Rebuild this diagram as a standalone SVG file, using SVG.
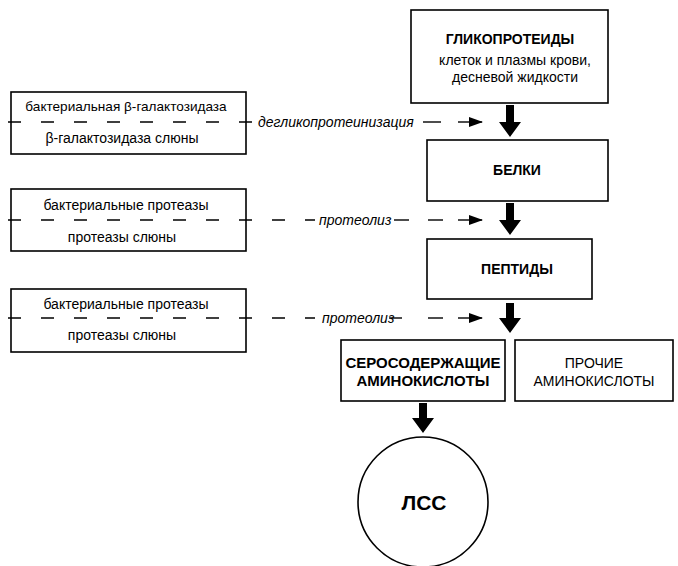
<svg xmlns="http://www.w3.org/2000/svg" width="678" height="566" viewBox="0 0 678 566">
<defs>
<style>
.box{fill:#fff;stroke:#000;stroke-width:1.6}
.t{font-family:"Liberation Sans",Arial,sans-serif;font-size:14px;fill:#000;text-anchor:middle}
.b{font-weight:bold}
.i{font-style:italic;text-anchor:start}
.dash{stroke:#000;stroke-width:1.4;fill:none;stroke-dasharray:13 20}
.seg{stroke:#000;stroke-width:1.4;fill:none}
.thick{fill:#000}
</style>
<marker id="ah" markerWidth="14" markerHeight="10" refX="13" refY="5" orient="auto" markerUnits="userSpaceOnUse">
<path d="M0,0 L14,5 L0,10 Z" fill="#000"/>
</marker>
</defs>
<rect width="678" height="566" fill="#fff"/>

<g id="glycoproteins">
<rect class="box" x="411" y="10" width="197" height="93"/>
<text class="t b" x="510" y="44">ГЛИКОПРОТЕИДЫ</text>
<text class="t" x="515" y="65">клеток и плазмы крови,</text>
<text class="t" x="515" y="82">десневой жидкости</text>
</g>

<g id="proteins">
<rect class="box" x="427" y="140" width="181" height="61"/>
<text class="t b" x="517" y="175">БЕЛКИ</text>
</g>

<g id="peptides">
<rect class="box" x="427" y="239" width="165" height="60"/>
<text class="t b" x="517" y="274">ПЕПТИДЫ</text>
</g>

<g id="sulfur-aa">
<rect class="box" x="341" y="340" width="164" height="61"/>
<text class="t b" x="423" y="368" style="font-size:15px">СЕРОСОДЕРЖАЩИЕ</text>
<text class="t b" x="423" y="386" style="font-size:15px">АМИНОКИСЛОТЫ</text>
</g>

<g id="other-aa">
<rect class="box" x="515" y="340" width="158" height="61"/>
<text class="t" x="594" y="368">ПРОЧИЕ</text>
<text class="t" x="594" y="386">АМИНОКИСЛОТЫ</text>
</g>

<g id="lss">
<circle cx="423" cy="502" r="65" fill="#fff" stroke="#000" stroke-width="1.6"/>
<text class="t b" x="424" y="510" style="font-size:21px">ЛСС</text>
</g>

<g id="enzymes-1">
<rect class="box" x="11" y="92" width="235" height="62"/>
<text class="t" x="126" y="111" style="font-size:13.6px">бактериальная β-галактозидаза</text>
<text class="t" x="122" y="143">β-галактозидаза слюны</text>
</g>

<g id="enzymes-2">
<rect class="box" x="11" y="189" width="235" height="62"/>
<text class="t" x="126" y="210">бактериальные протеазы</text>
<text class="t" x="122" y="242">протеазы слюны</text>
</g>

<g id="enzymes-3">
<rect class="box" x="11" y="289" width="235" height="63"/>
<text class="t" x="126" y="309">бактериальные протеазы</text>
<text class="t" x="122" y="340">протеазы слюны</text>
</g>

<g id="connectors">
<!-- thick arrows -->
<path class="thick" d="M506,105 H514 V122 H521 L510,137 L499,122 H506 Z"/>
<path class="thick" d="M506,203 H514 V220 H521 L510,235 L499,220 H506 Z"/>
<path class="thick" d="M506,303 H514 V318 H521 L510,333 L499,318 H506 Z"/>
<path class="thick" d="M419,403 H427 V418 H434 L423,433 L412,418 H419 Z"/>
<!-- row 1 -->
<path class="dash" d="M8,122 H252"/>
<text class="t i" x="258" y="127">дегликопротеинизация</text>
<path class="seg" d="M423,122 H441"/>
<path class="seg" d="M458,122 H482" marker-end="url(#ah)"/>
<!-- row 2 -->
<path class="dash" d="M8,220 H315"/>
<text class="t i" x="319" y="225">протеолиз</text>
<path class="seg" d="M394,220 H409"/>
<path class="seg" d="M428,220 H443"/>
<path class="seg" d="M458,220 H482" marker-end="url(#ah)"/>
<!-- row 3 -->
<path class="dash" d="M8,318 H315"/>
<text class="t i" x="322" y="323">протеолиз</text>
<path class="seg" d="M389,318 H402"/>
<path class="seg" d="M428,318 H443"/>
<path class="seg" d="M458,318 H482" marker-end="url(#ah)"/>
</g>
</svg>
